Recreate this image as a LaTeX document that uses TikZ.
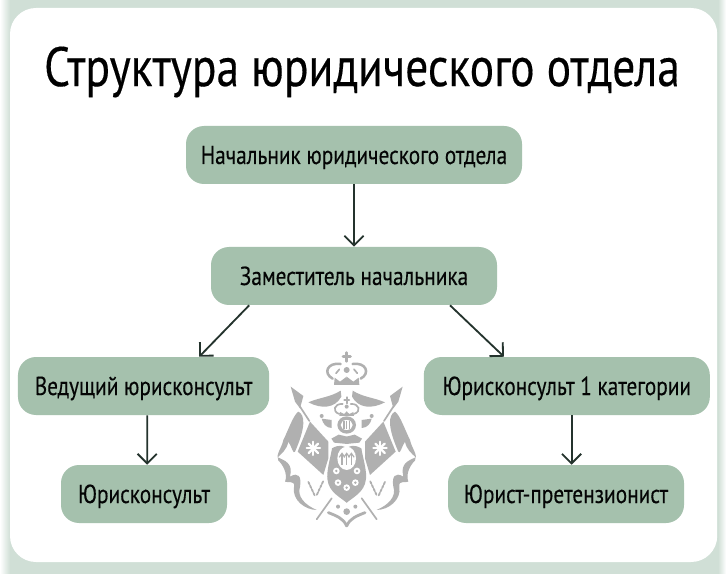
\documentclass[tikz,border=0pt]{standalone}
\usepackage{fontspec}
\setmainfont{PT Sans}[FakeStretch=0.82, FakeBold=0.25]
\usetikzlibrary{arrows.meta, positioning, calc}
\definecolor{bandgreen}{RGB}{208, 223, 214}
\definecolor{boxgreen}{RGB}{165, 193, 173}
\definecolor{linegreen}{RGB}{36, 51, 45}
\definecolor{crestgray}{RGB}{176, 176, 176}
\tikzset{
    postbox/.style={rectangle, rounded corners=0.45cm, fill=boxgreen, minimum height=1.45cm, text height=5.5mm, text depth=1mm, font=\fontsize{18.5}{20}\selectfont, text=black!90!linegreen},
    link/.style={-{Straight Barb[length=2.4mm, width=4.8mm]}, line width=1.3pt, draw=linegreen},
    crest/.style={fill=crestgray, draw=none},
    crestline/.style={draw=crestgray, line width=1.2pt, line cap=round},
}

\begin{document}
\begin{tikzpicture}
    \useasboundingbox (0,0) rectangle (18.15,-14.35);
    % Background
    \fill[bandgreen] (0,0) rectangle (18.15,-14.35);
    \shade[left color=white, right color=bandgreen] (0,0) rectangle (0.25,-14.35);
    \shade[right color=white, left color=bandgreen] (17.95,0) rectangle (18.15,-14.35);
    \fill[white, rounded corners=0.65cm] (0.25,-0.2) rectangle (17.93,-14.05);

    \node (title) at (9.05,-1.8) {\fontsize{39.5}{42}\selectfont Структура юридического отдела};

    % Boxes
    \node[postbox, minimum width=8.4cm] (head) at (8.85,-3.875) {Начальник юридического отдела};
    \node[postbox, minimum width=7.15cm] (deputy) at (8.85,-6.9) {Заместитель начальника};
    \node[postbox, minimum width=6.28cm] (lead) at (3.59,-9.65) {Ведущий юрисконсульт};
    \node[postbox, minimum width=4.15cm] (jurist) at (3.6,-12.35) {Юрисконсульт};
    \node[postbox, minimum width=7.15cm] (first) at (14.17,-9.65) {Юрисконсульт 1 категории};
    \node[postbox, minimum width=5.9cm] (claims) at (14.15,-12.35) {Юрист-претензионист};

    % Arrows
    \draw[link] (head) -- (deputy);
    \draw[link] ([xshift=-2.62cm]deputy.south) -- ([xshift=1.39cm]lead.north);
    \draw[link] ([xshift=2.4cm]deputy.south) -- ([xshift=-1.57cm]first.north);
    \draw[link] ([xshift=0.09cm]lead.south) -- ([xshift=0.08cm]jurist.north);
    \draw[link] ([xshift=0.12cm]first.south) -- ([xshift=0.14cm]claims.north);

    % Crest
    \begin{scope}[shift={(8.667,-8.5)}, x=0.00833cm, y=-0.00833cm]
        \foreach \flip in {1,-1} {
            \begin{scope}[xscale=\flip]
                % big crown
                \draw[crestline, line width=1.8pt] (-42,116) .. controls (-72,100) and (-58,66) .. (-18,72);
                \draw[crestline] (-32,100) -- (-22,88);
                \fill[crest] (-38,135) -- (-36,113) -- (-20,125) -- (0,110) -- (1,135) -- cycle;
                % mantle top
                \fill[crest] (-115,187) .. controls (-80,172) and (-50,172) .. (-18,152) -- (-16,170) .. controls (-35,205) and (-75,208) .. (-115,187) -- cycle;
                % small crown
                \draw[crestline] (-22,222) .. controls (-45,215) and (-38,190) .. (-12,192);
                \fill[crest] (-22,228) -- (-20,216) -- (-8,222) -- (1,214) -- (1,228) -- cycle;
                % spear and flag
                \fill[crest] (-168,140) -- (-130,168) -- (-140,205) -- (-155,185) -- cycle;
                \draw[crestline] (-140,200) -- (-112,243);
                \fill[crest] (-147,335) -- (-110,245) -- (-55,305) -- (-55,355) -- (-70,405) -- cycle;
                % cross on the flag
                \foreach \ang in {0,45,...,315} {
                    \draw[white, line width=1.6pt, line cap=round] (-100,325) -- ++(\ang:20);
                }
                \fill[white] (-100,325) circle (8);
                % mantle sides
                \fill[crest] (-145,215) .. controls (-125,225) and (-122,260) .. (-155,335) .. controls (-160,345) and (-165,320) .. (-175,305) .. controls (-180,330) and (-195,340) .. (-207,352) .. controls (-185,362) and (-160,370) .. (-170,410) .. controls (-145,395) and (-135,410) .. (-140,440) .. controls (-150,470) and (-125,495) .. (-90,510) .. controls (-125,510) and (-165,480) .. (-158,440) .. controls (-155,420) and (-175,430) .. (-185,425) .. controls (-175,400) and (-195,370) .. (-205,362) .. controls (-215,345) and (-195,325) .. (-190,300) .. controls (-175,270) and (-160,225) .. (-145,215) -- cycle;
                % small wing
                \fill[crest] (-75,236) -- (-45,240) -- (-45,264) .. controls (-62,264) and (-72,250) .. (-75,236) -- cycle;
                \fill[crest] (-75,228) circle (6);
                % shoulders
                \fill[crest] (-46,296) -- (-24,284) -- (1,290) -- (1,312) -- (-38,308) -- cycle;
                % shield
                \fill[crest] (-44,325) .. controls (-20,312) and (-10,318) .. (1,325) -- (1,488) -- (0,488) .. controls (-30,465) and (-62,450) .. (-58,400) .. controls (-55,370) and (-48,350) .. (-44,325) -- cycle;
                % rings on the shield
                \fill[white] (-31,393) circle (10);
                \fill[crest] (-31,393) circle (4);
                \fill[white] (-26,428) circle (10);
                \fill[crest] (-26,428) circle (4);
                % wheat
                \foreach \i in {0,1,2,3} {
                    \fill[crest, rotate around={25:(-98,448)}] (-104,425+\i*12) ellipse (3 and 7);
                    \fill[crest, rotate around={-25:(-84,448)}] (-82,425+\i*12) ellipse (3 and 7);
                }
                % bottom
                \draw[crestline] (-45,475) -- (-90,538);
                \draw[crestline, line width=2pt] (-55,518) .. controls (-30,528) and (-10,535) .. (0,558);
                \fill[crest] (-26,500) circle (6);
            \end{scope}
        }
        % centre column
        \draw[crestline, line width=2pt] (0,38) -- (0,64) (-11,50) -- (11,50);
        \fill[crest] (0,90) circle (9);
        \draw[crestline, line width=1.6pt] (0,172) -- (0,190) (-7,180) -- (7,180);
        \fill[crest] (0,200) circle (6);
        \fill[crest] (0,255) ellipse (28 and 26);
        \fill[white] (0,255) ellipse (18 and 15);
        \foreach \i in {-8,0,8} {
            \draw[crestgray, line width=0.9pt] (\i,243) -- (\i,267);
        }
        \fill[white] (0,355) ellipse (28 and 35);
        \foreach \i in {-14,0,14} {
            \draw[-{Straight Barb[length=1mm, width=1.4mm]}, crestgray, line width=0.8pt] (\i,375) -- (\i,337);
        }
        \fill[white] (0,443) circle (10);
        \fill[crest] (0,443) circle (4);
        \fill[crest] (0,515) circle (10);
    \end{scope}
\end{tikzpicture}
\end{document}
